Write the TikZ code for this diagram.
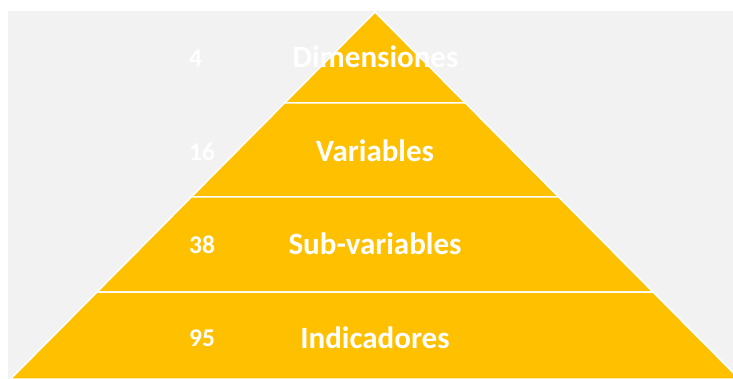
\documentclass[tikz,border=0pt]{standalone}
\usepackage{fontspec}
\setmainfont{Carlito}
\definecolor{pyr}{HTML}{FFC000}
\definecolor{bg}{HTML}{F2F2F2}
\begin{document}
\begin{tikzpicture}[x=1pt,y=-1pt,
  layer/.style={fill=pyr,draw=white,line width=1.5pt,line join=miter},
  lbl/.style={text=white,font=\bfseries\fontsize{31}{33}\selectfont,anchor=center,inner sep=0pt},
  num/.style={text=white,font=\bfseries\fontsize{25.5}{27}\selectfont,anchor=west,inner sep=0pt}]
\useasboundingbox (0,0) rectangle (733,379);
\clip (0,0) rectangle (733,379);
\fill[white] (0,0) rectangle (733,379);
\fill[bg] (8,11) rectangle (733,379);
% layers
\path[layer] (375,12) -- (465.4,103) -- (284.6,103) -- cycle;
\path[layer] (284.6,103) -- (465.4,103) -- (558.7,197) -- (191.3,197) -- cycle;
\path[layer] (191.3,197) -- (558.7,197) -- (653,292) -- (97,292) -- cycle;
\path[layer] (97,292) -- (653,292) -- (739.4,379) -- (10.6,379) -- cycle;
% labels
\node[lbl] (dim) at (375.5,57) {Dimensiones};
\node[lbl] (var) at (375,151) {Variables};
\node[lbl] (sub) at (375,244) {Sub-variables};
\node[lbl] (ind) at (375,338) {Indicadores};
\node[num] (n4) at (189,58) {4};
\node[num] (n16) at (189,152) {16};
\node[num] (n38) at (189,245) {38};
\node[num] (n95) at (189,338) {95};
\end{tikzpicture}
\end{document}
